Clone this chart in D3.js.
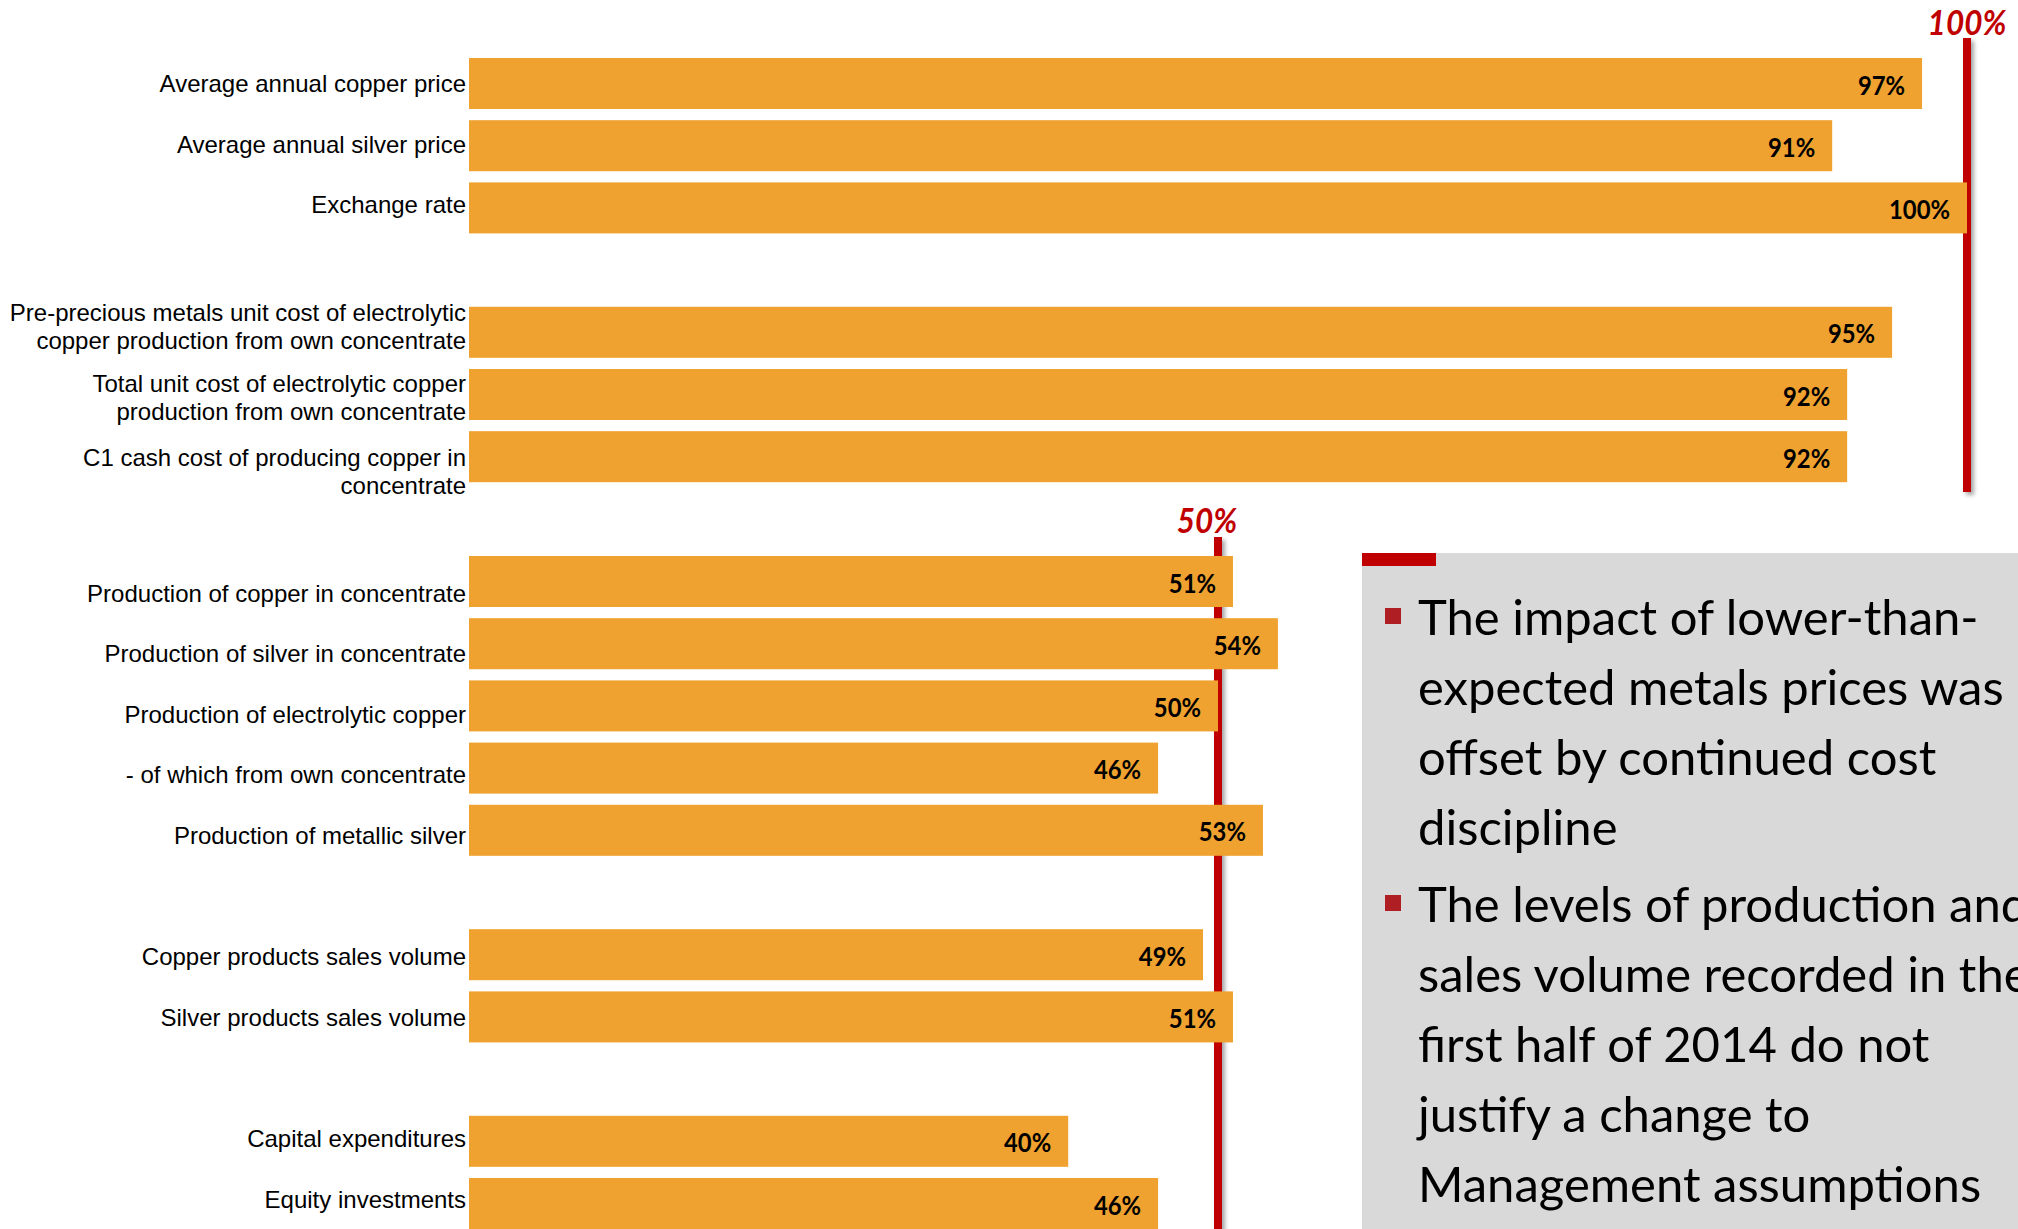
<!DOCTYPE html>
<html>
<head>
<meta charset="utf-8">
<script src="https://cdn.jsdelivr.net/npm/d3@7"></script>
<style>
  html, body { margin: 0; padding: 0; background: #ffffff; overflow: hidden; }
  svg { display: block; }
</style>
</head>
<body>
<svg id="chart" width="2018" height="1229"></svg>
<script>
// H1 2014 achievement versus full-year budget (% of budget)
const priceLabels = ["Average annual copper price", "Average annual silver price", "Exchange rate"];
const priceValues = [97, 91, 100];

const costLabels = [
  ["Pre-precious metals unit cost of electrolytic", "copper production from own concentrate"],
  ["Total unit cost of electrolytic copper", "production from own concentrate"],
  ["C1 cash cost of producing copper in", "concentrate"]
];
const costValues = [95, 92, 92];

const productionLabels = [
  "Production of copper in concentrate",
  "Production of silver in concentrate",
  "Production of electrolytic copper",
  "- of which from own concentrate",
  "Production of metallic silver"
];
const productionValues = [51, 54, 50, 46, 53];

const salesLabels = ["Copper products sales volume", "Silver products sales volume"];
const salesValues = [49, 51];

const investmentLabels = ["Capital expenditures", "Equity investments"];
const investmentValues = [40, 46];

// reference levels: full-year level for prices and costs, half-year level for volumes
const referenceLevels = [100, 50];

const bulletPoints = [
  ["The impact of lower-than-", "expected metals prices was", "offset by continued cost", "discipline"],
  ["The levels of production and", "sales volume recorded in the", "first half of 2014 do not", "justify a change to", "Management assumptions"]
];

// ---------------------------------------------------------------------------
const W = 2018, H = 1229;
const BAR = "#EFA22F", RED = "#C00000", BULLET = "#AE1E22", PANEL = "#D9D9D9";
const svg = d3.select("#chart");

const defs = svg.append("defs");
const shadow = defs.append("filter").attr("id", "lineShadow")
  .attr("filterUnits", "userSpaceOnUse")
  .attr("x", 0).attr("y", 0).attr("width", W).attr("height", H);
shadow.append("feDropShadow").attr("dx", 3).attr("dy", 3).attr("stdDeviation", 2)
  .attr("flood-color", "#000").attr("flood-opacity", 0.35);

// shared value axis for both panels
const x = d3.scaleLinear().domain([0, 100]).range([469, 1967]);

const STEP = 62.2, PAD = 0.18, LABEL_STEP = 60.6;

const panels = [
  {
    groups: [
      { labels: priceLabels, values: priceValues },
      { labels: costLabels, values: costValues }
    ],
    level: referenceLevels[0],
    barTop: 58, labelTop: 83.6,
    labelNudge: { 5: 11, 6: 24 },
    line: { y0: 38, y1: 492, labelY: 35, labelDx: 0 }
  },
  {
    groups: [
      { labels: productionLabels, values: productionValues },
      { labels: salesLabels, values: salesValues },
      { labels: investmentLabels, values: investmentValues }
    ],
    level: referenceLevels[1],
    barTop: 556, labelTop: 593,
    labelNudge: {},
    line: { y0: 537, y1: H + 10, labelY: 533, labelDx: -11 }
  }
];

// Lato stands in for the narrower presentation font: squeeze it horizontally
const CONDENSE = 0.9;

panels.forEach((panel, pi) => {
  // rows with a blank slot between groups
  const rows = [];
  panel.groups.forEach((g, gi) => {
    if (gi > 0) rows.push({ key: `gap-${pi}-${gi}`, blank: true });
    g.values.forEach((v, i) => rows.push({ key: `r-${pi}-${gi}-${i}`, label: g.labels[i], value: v }));
  });
  const n = rows.length;
  rows.forEach((r, i) => r.slot = i);

  const yBar = d3.scaleBand()
    .domain(rows.map(r => r.key))
    .range([panel.barTop, panel.barTop + STEP * (n - PAD)])
    .paddingInner(PAD).paddingOuter(0);

  const yLabel = d3.scaleBand()
    .domain(rows.map(r => r.key))
    .range([panel.labelTop - LABEL_STEP / 2, panel.labelTop - LABEL_STEP / 2 + LABEL_STEP * n]);

  const g = svg.append("g");

  // reference line (behind the bars)
  const lx = x(panel.level);
  g.append("rect")
    .attr("x", lx - 4).attr("width", 8)
    .attr("y", panel.line.y0).attr("height", panel.line.y1 - panel.line.y0)
    .attr("fill", RED)
    .attr("filter", "url(#lineShadow)");

  g.append("text")
    .attr("transform", `translate(${lx + panel.line.labelDx},${panel.line.labelY}) scale(${CONDENSE},1)`)
    .attr("text-anchor", "middle")
    .attr("font-family", "Lato, 'Open Sans', sans-serif")
    .attr("font-weight", 700).attr("font-style", "italic")
    .attr("font-size", 35)
    .attr("fill", RED)
    .text(d3.format(".0%")(panel.level / 100));

  const data = rows.filter(r => !r.blank);

  g.selectAll("rect.bar").data(data).join("rect")
    .attr("class", "bar")
    .attr("x", x(0))
    .attr("y", d => yBar(d.key))
    .attr("width", d => x(d.value) - x(0))
    .attr("height", yBar.bandwidth())
    .attr("fill", BAR);

  g.selectAll("text.val").data(data).join("text")
    .attr("class", "val")
    .attr("transform", d => `translate(${x(d.value) - 17},${yBar(d.key) + yBar.bandwidth() / 2 + 11}) scale(${CONDENSE},1)`)
    .attr("text-anchor", "end")
    .attr("font-family", "Lato, 'Open Sans', sans-serif")
    .attr("font-weight", 700)
    .attr("font-size", 26.5)
    .attr("fill", "#000")
    .text(d => d.value + "%");

  // category labels
  const labels = g.selectAll("text.cat").data(data).join("text")
    .attr("class", "cat")
    .attr("text-anchor", "end")
    .attr("font-family", "'Liberation Sans', Arial, sans-serif")
    .attr("font-size", 24)
    .attr("fill", "#000");
  labels.each(function (d) {
    const lines = Array.isArray(d.label) ? d.label : [d.label];
    const cy = yLabel(d.key) + yLabel.bandwidth() / 2 + (panel.labelNudge[d.slot] || 0);
    const lh = 28;
    const first = cy - (lines.length - 1) * lh / 2 + 8.6;
    d3.select(this).selectAll("tspan").data(lines).join("tspan")
      .attr("x", 466)
      .attr("y", (t, i) => first + i * lh)
      .text(t => t);
  });
});

// ---------------------------------------------------------------------------
// commentary panel
const box = svg.append("g");
box.append("rect").attr("x", 1362).attr("y", 553).attr("width", W - 1362).attr("height", H - 553).attr("fill", PANEL);
box.append("rect").attr("x", 1362).attr("y", 553).attr("width", 74).attr("height", 13).attr("fill", RED);

const FS = 49, LINE = 70;
const probe = box.append("text").attr("font-family", "Lato, sans-serif").attr("font-size", FS)
  .text("expected metals prices was");
const squeeze = Math.min(1, 591 / probe.node().getComputedTextLength());
probe.remove();

let baseline = 635;
bulletPoints.forEach((lines, bi) => {
  if (bi > 0) baseline += 7;
  box.append("rect")
    .attr("x", 1385).attr("y", baseline - 27)
    .attr("width", 16).attr("height", 16)
    .attr("fill", BULLET);
  lines.forEach((t, li) => {
    box.append("text")
      .attr("transform", `translate(1418,${baseline}) scale(${squeeze},1)`)
      .attr("font-family", "Lato, sans-serif")
      .attr("font-size", FS)
      .attr("fill", "#000")
      .text(t);
    baseline += LINE;
  });
});
</script>
</body>
</html>
